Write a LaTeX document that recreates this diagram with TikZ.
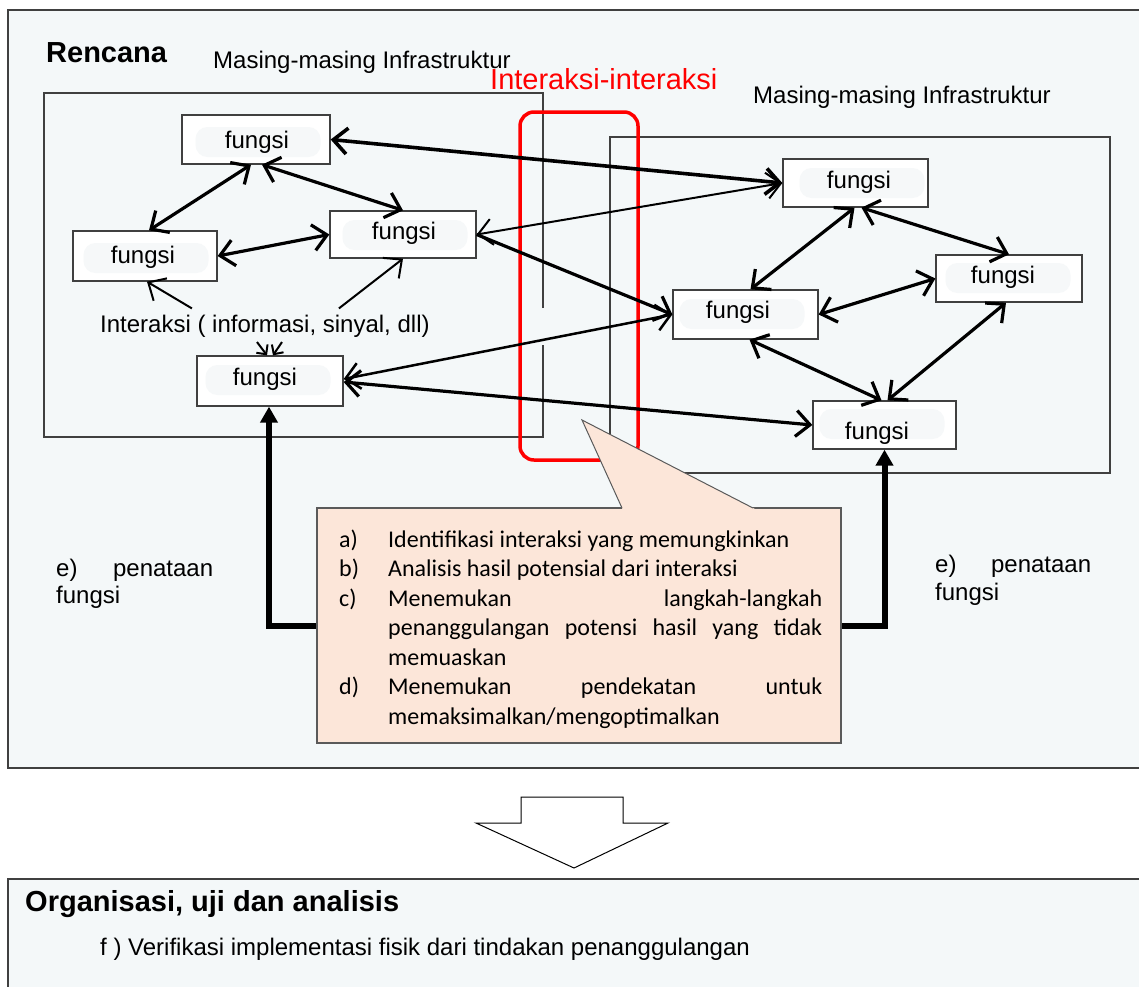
\documentclass[tikz,border=0pt]{standalone}
\usepackage{fontspec}
\setmainfont{Liberation Sans}
\newfontfamily\calibri{Carlito}
\usetikzlibrary{arrows.meta}
\definecolor{panel}{HTML}{F4F8F9}
\definecolor{edge}{HTML}{404040}
\definecolor{peach}{HTML}{FCE6D9}
\definecolor{callline}{HTML}{5A5A5A}
\definecolor{smudge}{HTML}{F6F8F9}
% one line of the callout list: label column and a 434pt text column
\newcommand\calline[2]{\hbox{\hbox to 49pt{#1\hfil}\hbox to 434pt{#2}}}

\begin{document}
\begin{tikzpicture}[x=1pt,y=-1pt,
  >={Straight Barb[length=14pt,width=26pt]},
  txt/.style={font=\fontsize{24}{28}\selectfont, inner sep=0pt},
  head/.style={font=\bfseries\fontsize{29}{34}\selectfont, inner sep=0pt},
  fbox/.style={draw=edge, line width=1.3pt, fill=white, inner sep=0pt},
  smear/.style={fill=smudge, rounded corners=12pt, draw=none, inner sep=0pt,
                minimum width=125pt, minimum height=30pt},
  link/.style={line width=3.2pt},
  thinlink/.style={line width=2pt},
  feed/.style={line width=6pt, -{Triangle[length=16pt,width=17pt]}},
]
\useasboundingbox (0,0) rectangle (1139,986);
\fill[white] (0,0) rectangle (1139,986);
\begin{scope}
\clip (0,0) rectangle (1139,986);

% outer panels
\draw[edge, line width=1.5pt, fill=panel] (8,10) rectangle (1160,768);
\draw[edge, line width=1.5pt, fill=panel] (8,879) rectangle (1160,1010);

% infrastructure frames
\draw[edge, line width=1.3pt] (543,308) -- (543,93) -- (44,93) -- (44,437) -- (543,437) -- (543,345);
\draw[edge, line width=1.3pt] (610,137) rectangle (1110,473);

% headings
\node[head, anchor=base west] (plan) at (46,62) {Rencana};
\node[txt, anchor=base west] (infraL) at (213,68) {Masing-masing Infrastruktur};
\node[txt, anchor=base west] (infraR) at (753,103) {Masing-masing Infrastruktur};
\node[anchor=base west, inner sep=0pt, text=red, font=\fontsize{29}{34}\selectfont] (inter) at (490,89) {Interaksi-interaksi};

% interaction zone
\draw[red, line width=3.5pt, rounded corners=14pt] (520,112) rectangle (638,460);

% function boxes
\node[fbox, minimum width=148pt, minimum height=49pt] (A) at (256,139.5) {};
\node[fbox, minimum width=144pt, minimum height=50pt] (B) at (145,256) {};
\node[fbox, minimum width=146pt, minimum height=47pt] (C) at (403,234.5) {};
\node[fbox, minimum width=146pt, minimum height=50pt] (D) at (270,381) {};
\node[fbox, minimum width=145pt, minimum height=48pt] (E) at (855.5,183) {};
\node[fbox, minimum width=146pt, minimum height=47pt] (F) at (1009,278.5) {};
\node[fbox, minimum width=145pt, minimum height=49pt] (G) at (745.5,314.5) {};
\node[fbox, minimum width=143pt, minimum height=48pt] (H) at (884.5,425) {};

\node[smear] (As) at (258,142) {};
\node[smear] (Bs) at (146,258) {};
\node[smear] (Cs) at (405,235) {};
\node[smear] (Ds) at (268,380) {};
\node[smear] (Es) at (862,183) {};
\node[smear] (Fs) at (1008,278) {};
\node[smear] (Gs) at (742,314) {};
\node[smear] (Hs) at (882,424) {};

\node[txt] (At) at (257,142) {fungsi};
\node[txt] (Bt) at (143,257) {fungsi};
\node[txt] (Ct) at (404,233) {fungsi};
\node[txt] (Dt) at (265,379) {fungsi};
\node[txt] (Et) at (859,182) {fungsi};
\node[txt] (Ft) at (1003,277) {fungsi};
\node[txt] (Gt) at (738,312) {fungsi};
\node[txt] (Ht) at (877,433) {fungsi};

\node[txt, anchor=base west] (T) at (100,332) {Interaksi ( informasi, sinyal, dll)};

% links inside the left infrastructure
\draw[link,<->] ([xshift=-5pt]A.south) -- ([xshift=4pt]B.north);
\draw[link,<->] ([xshift=6pt]A.south) -- (C.north);
\draw[link,<->] (B.east) -- (C.west);
\draw[thinlink,->] ([xshift=-73pt,yshift=6pt]T.north) -- ([xshift=2pt]B.south);
\draw[thinlink,->] ([xshift=74pt,yshift=6pt]T.north) -- (C.south);
\coordinate (d1) at (257,342);
\coordinate (d2) at (282,342);
\draw[thinlink,-{Straight Barb[length=7pt,width=14pt]}] (d1) -- ([xshift=-3pt]D.north);
\draw[thinlink,-{Straight Barb[length=7pt,width=14pt]}] (d2) -- ([xshift=3pt]D.north);

% links across the two infrastructures
\draw[line width=3.6pt,<->] (A.east) -- (E.west);
\draw[thinlink,<->] (C.east) -- (E.west);
\draw[link,->] (C.east) -- (G.west);
\draw[line width=2.5pt,<->] (G.west) -- ([yshift=2pt]D.east);
\draw[link,<->] ([yshift=-1pt]D.east) -- (H.west);

% links inside the right infrastructure
\draw[link,<->] ([xshift=-1pt]E.south) -- ([xshift=5pt]G.north);
\draw[link,<->] ([xshift=6pt]E.south) -- (F.north);
\draw[link,<->] (G.east) -- (F.west);
\draw[link,<->] ([xshift=4pt]G.south) -- ([xshift=-3pt]H.north);
\draw[link,<->] ([xshift=-3pt]F.south) -- ([xshift=3pt]H.north);

% callout with the analysis steps
\coordinate (K0) at (579,625.5);
\draw[feed] (K0) -| ([xshift=-1pt]D.south);
\draw[feed] (K0) -| (H.south);
\node[draw=callline, line width=1.3pt, fill=peach, minimum width=524pt, minimum height=235pt, inner sep=0pt] (K) at (K0) {};
\fill[peach] (582,420) -- (622.9,510) -- (756.9,510) -- cycle;
\draw[callline, line width=1pt] (622,508) -- (582,420) -- (753,508);

\node[anchor=base west, inner sep=0pt, font=\calibri\fontsize{24}{29.5}\selectfont] (L) at (339,547) {\vtop{%
  \calline{a)}{Identifikasi interaksi yang memungkinkan\hfil}
  \calline{b)}{Analisis hasil potensial dari interaksi\hfil}
  \calline{c)}{Menemukan\hfill langkah-langkah}
  \calline{}{penanggulangan\hfill potensi\hfill hasil\hfill yang\hfill tidak}
  \calline{}{memuaskan\hfil}
  \calline{d)}{Menemukan\hfill pendekatan\hfill untuk}
  \calline{}{memaksimalkan/mengoptimalkan\hfil}}};

% arrangement labels
\node[txt, anchor=base west] (eL1) at (56,576) {\hbox to 157pt{e)\hfill penataan}};
\node[txt, anchor=base west] (eL2) at (56,603) {fungsi};
\node[txt, anchor=base west] (eR1) at (935,572) {\hbox to 156pt{e)\hfill penataan}};
\node[txt, anchor=base west] (eR2) at (935,600) {fungsi};

% transition arrow
\draw[black, line width=1pt, fill=white] (521,797) -- (623,797) -- (623,823) -- (668,823)
  -- (574,868) -- (476,823) -- (521,823) -- cycle;

% lower panel texts
\node[head, anchor=base west] (org) at (25,911) {Organisasi, uji dan analisis};
\node[txt, anchor=base west] (verif) at (100,955) {f ) Verifikasi implementasi fisik dari tindakan penanggulangan};
\end{scope}
\end{tikzpicture}
\end{document}
